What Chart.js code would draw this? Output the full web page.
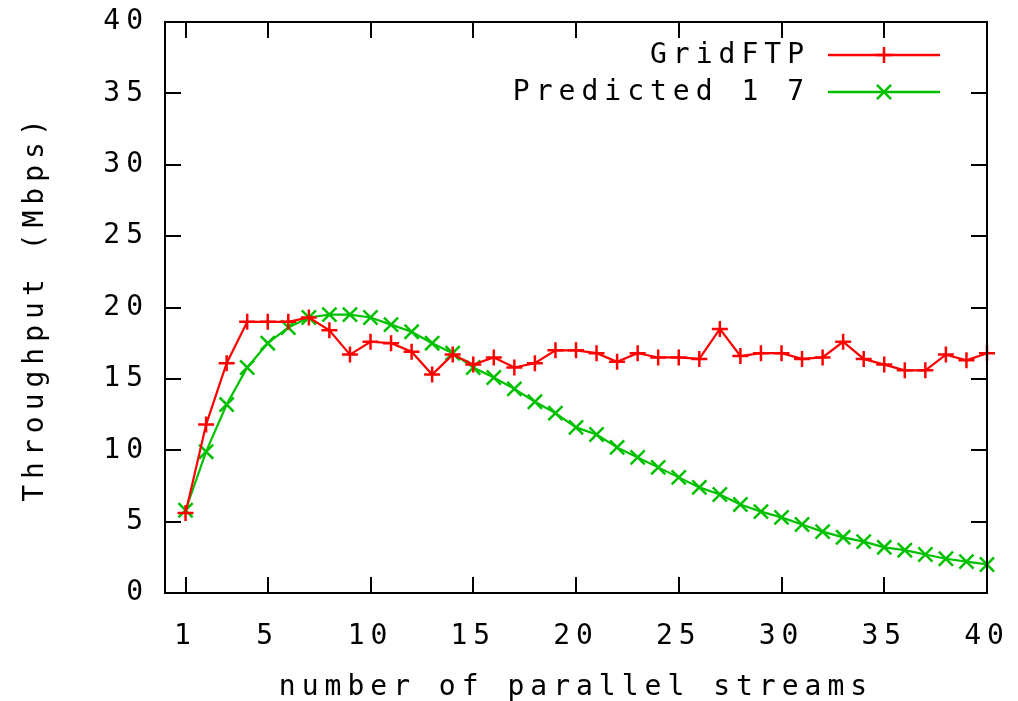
<!DOCTYPE html>
<html>
<head>
<meta charset="utf-8">
<script src="https://cdn.jsdelivr.net/npm/chart.js@4.4.0/dist/chart.umd.min.js"></script>
<style>
html, body { margin: 0; padding: 0; background: #fff; }
</style>
</head>
<body>
<canvas id="myChart" width="1018" height="701"></canvas>
<script>
var streams = [1, 2, 3, 4, 5, 6, 7, 8, 9, 10, 11, 12, 13, 14, 15, 16, 17, 18, 19, 20,
               21, 22, 23, 24, 25, 26, 27, 28, 29, 30, 31, 32, 33, 34, 35, 36, 37, 38, 39, 40];
var gridftp = [5.6, 11.8, 16.1, 19.0, 19.0, 19.0, 19.3, 18.4, 16.7, 17.6,
               17.5, 16.9, 15.3, 16.7, 16.0, 16.5, 15.8, 16.1, 17.0, 17.0,
               16.8, 16.2, 16.8, 16.5, 16.5, 16.4, 18.5, 16.6, 16.8, 16.8,
               16.4, 16.5, 17.6, 16.4, 16.0, 15.6, 15.6, 16.7, 16.3, 16.8];
var predicted = [5.8, 9.9, 13.2, 15.8, 17.5, 18.6, 19.3, 19.5, 19.5, 19.3,
                 18.8, 18.3, 17.5, 16.8, 15.8, 15.1, 14.3, 13.4, 12.6, 11.6,
                 11.1, 10.2, 9.5, 8.8, 8.1, 7.4, 6.9, 6.2, 5.7, 5.3,
                 4.8, 4.3, 3.9, 3.6, 3.2, 3.0, 2.7, 2.4, 2.2, 2.0];
var xTicks = [1, 5, 10, 15, 20, 25, 30, 35, 40];
var yTicks = [0, 5, 10, 15, 20, 25, 30, 35, 40];
var seriesNames = ['GridFTP', 'Predicted 1 7'];

var fontFamily = '"DejaVu Sans Mono", "Liberation Mono", monospace';
var fontSize = 28;
var spacing = '6px';

function pts(ys) {
    return streams.map(function (x, i) { return { x: x, y: ys[i] }; });
}

// gnuplot style: ticks inside on all four sides, black frame, legend top right
var gnuplotFrame = {
    id: 'gnuplotFrame',
    beforeLayout: function (chart) { chart.ctx.letterSpacing = spacing; },
    beforeDraw: function (chart) { chart.ctx.letterSpacing = spacing; },
    afterDraw: function (chart) {
        var ctx = chart.ctx;
        var a = chart.chartArea;
        var xs = chart.scales.x, ys = chart.scales.y;
        var tl = 16;
        ctx.save();
        ctx.strokeStyle = '#000';
        ctx.lineWidth = 2;
        ctx.strokeRect(a.left, a.top, a.right - a.left, a.bottom - a.top);
        ctx.beginPath();
        xTicks.forEach(function (v) {
            var px = Math.round(xs.getPixelForValue(v));
            ctx.moveTo(px, a.bottom); ctx.lineTo(px, a.bottom - tl);
            ctx.moveTo(px, a.top); ctx.lineTo(px, a.top + tl);
        });
        yTicks.forEach(function (v) {
            var py = Math.round(ys.getPixelForValue(v));
            ctx.moveTo(a.left, py); ctx.lineTo(a.left + tl, py);
            ctx.moveTo(a.right, py); ctx.lineTo(a.right - tl, py);
        });
        ctx.stroke();

        // legend
        ctx.font = fontSize + 'px ' + fontFamily;
        ctx.letterSpacing = spacing;
        ctx.textAlign = 'right';
        ctx.textBaseline = 'middle';
        var rows = [55, 92];
        chart.data.datasets.forEach(function (ds, i) {
            var y = rows[i];
            ctx.fillStyle = '#000';
            ctx.fillText(seriesNames[i], 810, y + 1);
            ctx.strokeStyle = ds.borderColor;
            ctx.lineWidth = 2.5;
            ctx.beginPath();
            ctx.moveTo(828, y); ctx.lineTo(940, y);
            ctx.stroke();
            Chart.helpers.drawPoint(ctx, {
                pointStyle: ds.pointStyle, radius: ds.pointRadius,
                borderWidth: ds.pointBorderWidth, rotation: 0
            }, 884, y);
        });
        ctx.restore();
    }
};

const ctx = document.getElementById('myChart').getContext('2d');
const myChart = new Chart(ctx, {
    type: 'line',
    data: {
        datasets: [{
            label: seriesNames[0],
            data: pts(gridftp),
            borderColor: '#ff0000',
            backgroundColor: '#ff0000',
            borderWidth: 2.2,
            pointStyle: 'cross',
            pointRadius: 8,
            pointBorderWidth: 2.5,
            pointBorderColor: '#ff0000',
            tension: 0,
            clip: false
        },
        {
            label: seriesNames[1],
            data: pts(predicted),
            borderColor: '#00c000',
            backgroundColor: '#00c000',
            borderWidth: 2.2,
            pointStyle: 'crossRot',
            pointRadius: 10,
            pointBorderWidth: 2.5,
            pointBorderColor: '#00c000',
            tension: 0,
            clip: false
        }]
    },
    options: {
        responsive: false,
        animation: false,
        layout: { padding: { top: 22, right: 31, left: 0, bottom: 0 } },
        plugins: {
            legend: { display: false },
            tooltip: { enabled: false }
        },
        scales: {
            x: {
                type: 'linear',
                min: 0,
                max: 40,
                afterBuildTicks: function (s) { s.ticks = xTicks.map(function (v) { return { value: v }; }); },
                afterFit: function (s) { s.height = 108; s.paddingLeft = 0; s.paddingRight = 0; },
                grid: { display: false },
                border: { display: false },
                ticks: {
                    color: '#000', padding: 19, maxRotation: 0, autoSkip: false,
                    font: { family: fontFamily, size: fontSize }
                },
                title: {
                    display: true, text: 'number of parallel streams', color: '#000',
                    font: { family: fontFamily, size: fontSize }, padding: { top: 0, bottom: -4 }
                }
            },
            y: {
                min: 0,
                max: 40,
                afterBuildTicks: function (s) { s.ticks = yTicks.map(function (v) { return { value: v }; }); },
                afterFit: function (s) { s.width = 165; s.paddingTop = 0; s.paddingBottom = 0; },
                grid: { display: false },
                border: { display: false },
                ticks: {
                    color: '#000', padding: 8,
                    font: { family: fontFamily, size: fontSize }
                },
                title: {
                    display: true, text: 'Throughput (Mbps)', color: '#000',
                    font: { family: fontFamily, size: fontSize }, padding: { top: 19, bottom: 0 }
                }
            }
        }
    },
    plugins: [gnuplotFrame]
});
</script>
</body>
</html>
